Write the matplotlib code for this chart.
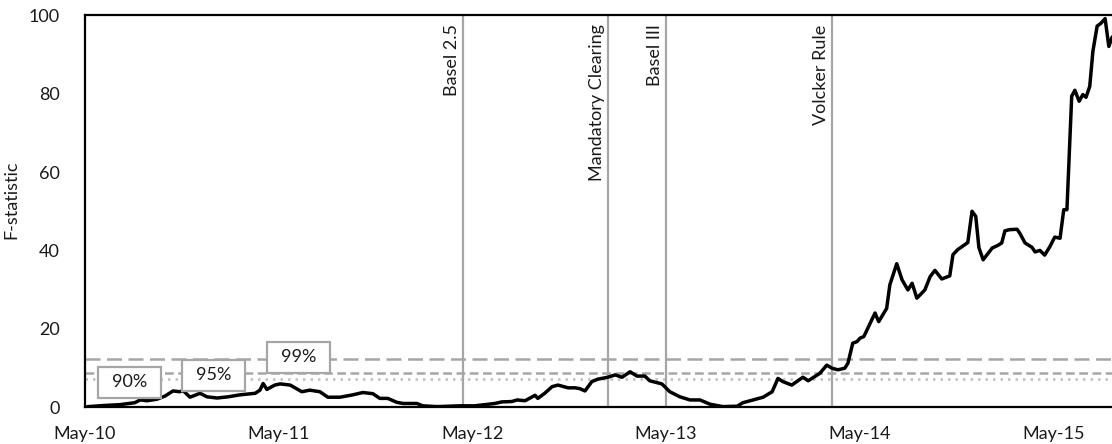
import matplotlib
matplotlib.use("Agg")
import matplotlib.pyplot as plt
import matplotlib.dates as mdates
from matplotlib.patches import Rectangle
import pandas as pd

plt.rcParams['font.family'] = ['Lato', 'DejaVu Sans']

# weekly F-statistic (sampled)
dates = ["2010-05-07", "2010-06-08", "2010-07-06", "2010-08-03", "2010-08-13", "2010-08-26",
         "2010-09-14", "2010-09-29", "2010-10-14", "2010-10-27", "2010-11-02", "2010-11-15",
         "2010-12-04", "2010-12-17", "2011-01-05", "2011-01-26", "2011-02-17", "2011-03-18",
         "2011-03-27", "2011-04-02", "2011-04-09", "2011-04-24", "2011-05-04", "2011-05-23",
         "2011-06-14", "2011-06-29", "2011-07-18", "2011-08-02", "2011-08-25", "2011-09-18",
         "2011-10-07", "2011-10-26", "2011-11-08", "2011-11-23", "2011-12-10", "2011-12-22",
         "2012-01-17", "2012-01-28", "2012-02-24", "2012-03-19", "2012-04-07", "2012-05-05",
         "2012-06-12", "2012-06-25", "2012-07-14", "2012-07-24", "2012-08-08", "2012-08-27",
         "2012-09-01", "2012-09-14", "2012-09-28", "2012-10-09", "2012-10-28", "2012-11-10",
         "2012-11-19", "2012-11-29", "2012-12-12", "2012-12-23", "2013-01-11", "2013-01-25",
         "2013-02-07", "2013-02-22", "2013-03-07", "2013-03-22", "2013-03-31", "2013-04-23",
         "2013-05-08", "2013-05-27", "2013-06-15", "2013-07-04", "2013-07-23", "2013-08-16",
         "2013-09-12", "2013-09-23", "2013-10-12", "2013-10-31", "2013-11-17", "2013-11-28",
         "2013-12-07", "2013-12-24", "2014-01-14", "2014-01-24", "2014-02-15", "2014-02-28",
         "2014-03-10", "2014-03-21", "2014-04-03", "2014-04-09", "2014-04-18", "2014-04-26",
         "2014-05-02", "2014-05-09", "2014-05-30", "2014-06-06", "2014-06-21", "2014-06-27",
         "2014-07-10", "2014-07-20", "2014-07-31", "2014-08-08", "2014-08-17", "2014-09-01",
         "2014-09-11", "2014-09-20", "2014-10-03", "2014-10-18", "2014-10-24", "2014-11-02",
         "2014-11-21", "2014-11-29", "2014-12-06", "2014-12-12", "2014-12-20", "2015-01-06",
         "2015-01-17", "2015-01-24", "2015-01-30", "2015-02-08", "2015-02-22", "2015-02-27",
         "2015-03-09", "2015-03-22", "2015-03-28", "2015-04-06", "2015-04-15", "2015-04-25",
         "2015-05-04", "2015-05-14", "2015-05-21", "2015-05-27", "2015-06-05", "2015-06-11",
         "2015-06-19", "2015-06-26", "2015-07-02", "2015-07-09", "2015-07-15", "2015-07-23",
         "2015-07-30", "2015-08-07", "2015-08-14", "2015-08-20", "2015-08-31"]
fstat = [0.1, 0.4, 0.6, 1.1, 1.8, 1.6,
         2.0, 2.8, 4.1, 3.9, 4.2, 2.5,
         3.5, 2.6, 2.3, 2.6, 3.1, 3.5,
         4.3, 6.0, 4.5, 5.6, 5.9, 5.6,
         3.9, 4.3, 3.9, 2.5, 2.5, 3.1,
         3.7, 3.4, 2.2, 2.2, 1.2, 0.9,
         0.9, 0.3, 0.1, 0.2, 0.3, 0.3,
         0.9, 1.3, 1.4, 1.8, 1.6, 3.0,
         2.2, 3.5, 5.2, 5.6, 4.9, 4.9,
         4.7, 4.1, 6.5, 7.1, 7.6, 8.2,
         7.6, 9.0, 7.9, 7.9, 6.7, 5.9,
         3.9, 2.6, 1.8, 1.8, 0.7, 0.1,
         0.2, 1.1, 1.8, 2.5, 3.9, 7.3,
         6.5, 5.6, 7.6, 6.7, 8.6, 10.7,
         9.9, 9.5, 9.9, 11.2, 16.3, 16.7,
         17.6, 18.0, 24.0, 21.8, 25.2, 31.2,
         36.6, 32.5, 29.9, 31.6, 27.8, 29.9,
         33.3, 34.9, 32.7, 33.5, 38.9, 40.2,
         42.0, 50.0, 48.7, 40.7, 37.6, 40.6,
         41.3, 41.9, 45.0, 45.3, 45.4, 44.4,
         41.9, 40.8, 39.6, 40.0, 38.8, 41.0,
         43.4, 43.1, 50.4, 50.4, 79.4, 80.9,
         78.1, 79.8, 79.1, 81.9, 90.9, 97.3,
         98.0, 99.2, 92.1, 94.4, 96.0]

# regulatory events
events = ["Basel 2.5", "Mandatory Clearing", "Basel III", "Volcker Rule"]
event_dates = ["2012-04-13", "2013-01-11", "2013-05-01", "2014-03-10"]

# critical values
crit_labels = ["90%", "95%", "99%"]
crit_values = [7.2, 8.8, 12.2]
crit_styles = [(0, (1, 2)), (0, (3.5, 1.8)), (0, (6, 2.6))]
crit_colors = ["#BFBFBF", "#A6A6A6", "#A6A6A6"]
crit_box_dates = ["2010-07-24", "2010-12-30", "2011-06-08"]
crit_box_y = [6.3, 8.1, 12.7]

x = pd.to_datetime(dates)
fs = 13

fig = plt.figure(figsize=(11.12, 4.44), dpi=100)
ax = fig.add_axes([85 / 1112, 37 / 444, 1 - 85 / 1112, (407 - 15.5) / 444])

for v, ls, c in zip(crit_values, crit_styles, crit_colors):
    ax.axhline(v, color=c, lw=1.8, linestyle=ls, zorder=1)

for name, d in zip(events, event_dates):
    dd = pd.Timestamp(d)
    ax.axvline(dd, color="#A6A6A6", lw=1.6, zorder=2)
    ax.annotate(name, xy=(dd, 100), xytext=(-3, -9), textcoords="offset pixels",
                rotation=90, ha="right", va="top", fontsize=fs, color="#1a1a1a")

ax.plot(x, fstat, color="black", lw=2.5, zorder=3)

# labelled boxes for the critical values
box_w = 119  # days
box_h = 7.9
for lab, d, yc in zip(crit_labels, crit_box_dates, crit_box_y):
    xc = mdates.date2num(pd.Timestamp(d))
    ax.add_patch(Rectangle((xc - box_w / 2, yc - box_h / 2), box_w, box_h,
                           facecolor="white", edgecolor="#A6A6A6", lw=1.6, zorder=4))
    ax.text(xc, yc, lab, ha="center", va="center", fontsize=fs, color="#1a1a1a", zorder=5)

ax.set_ylim(0, 100)
ax.set_xlim(pd.Timestamp("2010-05-01"), pd.Timestamp("2015-08-20"))
ax.set_yticks(range(0, 101, 20))
ax.xaxis.set_major_locator(mdates.MonthLocator(bymonth=5, bymonthday=1))
ax.xaxis.set_major_formatter(mdates.DateFormatter("%b-%y"))
ax.tick_params(axis="both", length=0, labelsize=fs, labelcolor="#1a1a1a")
ax.tick_params(axis="x", pad=14)
ax.tick_params(axis="y", pad=18)

ax.set_ylabel("F-statistic", fontsize=fs, color="#1a1a1a")
ax.yaxis.set_label_coords(-0.064, 0.53)

for s in ["left", "bottom", "top"]:
    ax.spines[s].set_linewidth(1.6)
    ax.spines[s].set_color("black")
ax.spines["right"].set_visible(False)

fig.savefig("out.png", dpi=100)
